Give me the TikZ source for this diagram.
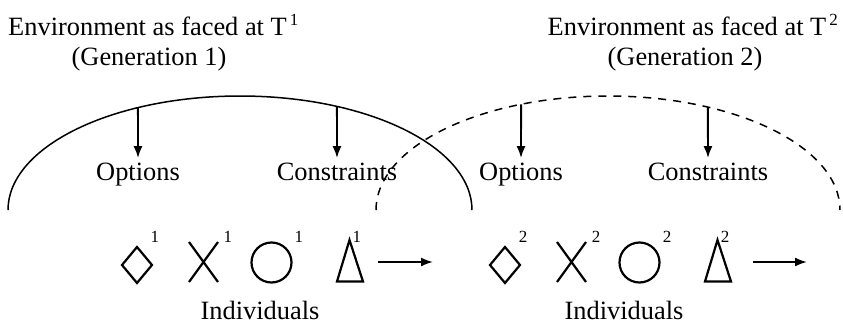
\documentclass[tikz,border=0pt]{standalone}
\usepackage{fontspec}
\setmainfont{Liberation Serif}
\usetikzlibrary{arrows.meta,positioning}
\tikzset{
  lbl/.style={font=\fontsize{13.2}{15}\selectfont, inner sep=2pt, anchor=base},
  sup/.style={font=\fontsize{8.5}{10}\selectfont, inner sep=0pt},
  sym/.style={line width=1.1pt},
  env/.style={line width=0.75pt},
  arr/.style={line width=0.95pt, -{Latex[length=6pt,width=4.5pt]}},
}
\newcommand{\supT}[1]{\rlap{\kern1.5pt\raisebox{5pt}{\fontsize{8.5}{10}\selectfont #1}}}

\begin{document}
\begin{tikzpicture}[x=0.5pt, y=0.5pt]
	\useasboundingbox (0,0) rectangle (843,323);
	% titles
	\node[lbl] (title1) at (147.5,288) {Environment as faced at T\supT{1}};
	\node[lbl] (gen1) at (149,258) {(Generation 1)};
	\node[lbl] (title2) at (687,288) {Environment as faced at T\supT{2}};
	\node[lbl] (gen2) at (685,258) {(Generation 2)};
	% environments
	\coordinate (env1) at (240,113);
	\coordinate (env2) at (608,113);
	\draw[env] ([shift={(env1)}]180:232 and 114) arc[start angle=180, end angle=0, x radius=232, y radius=114];
	\draw[env, dash pattern=on 4pt off 3.5pt] ([shift={(env2)}]180:232 and 114) arc[start angle=180, end angle=0, x radius=232, y radius=114];
	\node[lbl] (opt1) at (138,143) {Options};
	\node[lbl] (con1) at (337,143) {Constraints};
	\node[lbl] (opt2) at (521,143) {Options};
	\node[lbl] (con2) at (708,143) {Constraints};
	\coordinate (o1) at ([shift={(env1)}]116.1:232 and 114);
	\coordinate (c1) at ([shift={(env1)}]65.3:232 and 114);
	\coordinate (o2) at ([shift={(env2)}]112.0:232 and 114);
	\coordinate (c2) at ([shift={(env2)}]64.5:232 and 114);
	\draw[arr] (o1) -- (opt1.north);
	\draw[arr] (c1) -- (con1.north);
	\draw[arr] (o2) -- (opt2.north);
	\draw[arr] (c2) -- (con2.north);
	% generation 1
	\draw[sym] (122,58) -- (137,76) -- (152,58) -- (137,40) -- cycle;
	\draw[sym] (189,81) -- (218,41) (218,81) -- (189,41);
	\draw[sym] (271.5,60.5) circle[radius=20];
	\draw[sym] (337,41.5) -- (349.5,83) -- (363,41.5) -- cycle;
	\node[sup] (d1) at (155,86) {1};
	\node[sup] (x1) at (228,86) {1};
	\node[sup] (k1) at (299,86) {1};
	\node[sup] (t1) at (357,86) {1};
	\coordinate (n1s) at (378,61);
	\coordinate (n1e) at (433,61);
	\draw[arr] (n1s) -- (n1e);
	\node[lbl] (ind1) at (260,4) {Individuals};
	% generation 2
	\draw[sym] (490,58) -- (505,76) -- (520,58) -- (505,40) -- cycle;
	\draw[sym] (557,81) -- (586,41) (586,81) -- (557,41);
	\draw[sym] (639.5,60.5) circle[radius=20];
	\draw[sym] (705,41.5) -- (717.5,83) -- (731,41.5) -- cycle;
	\node[sup] (d2) at (523,86) {2};
	\node[sup] (x2) at (596,86) {2};
	\node[sup] (k2) at (667,86) {2};
	\node[sup] (t2) at (725,86) {2};
	\coordinate (n2s) at (753,61);
	\coordinate (n2e) at (807,61);
	\draw[arr] (n2s) -- (n2e);
	\node[lbl] (ind2) at (624,4) {Individuals};
\end{tikzpicture}
\end{document}
